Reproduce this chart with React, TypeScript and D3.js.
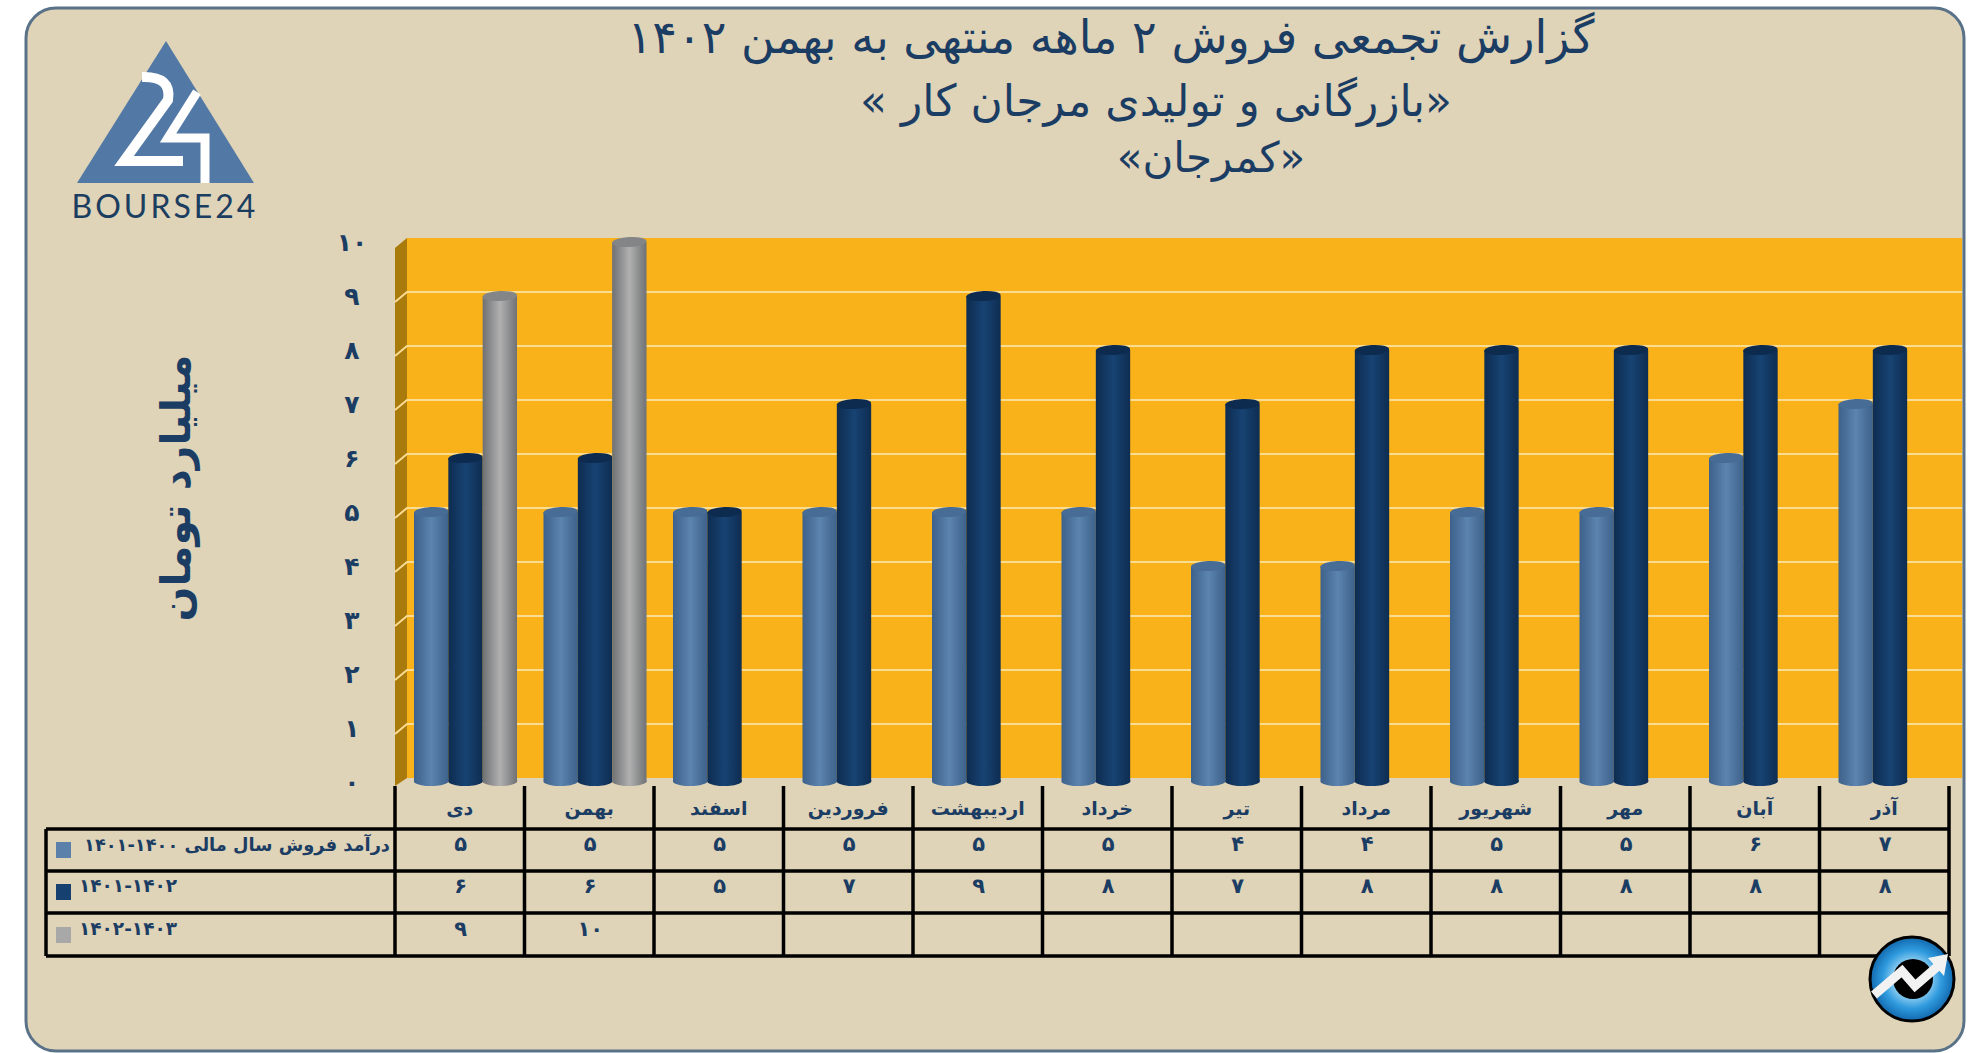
import { useEffect, useRef } from 'react';
import * as d3 from 'd3';

const months = ['دی', 'بهمن', 'اسفند', 'فروردین', 'اردیبهشت', 'خرداد', 'تیر', 'مرداد', 'شهریور', 'مهر', 'آبان', 'آذر'];
const sales1400 = [5, 5, 5, 5, 5, 5, 4, 4, 5, 5, 6, 7];
const sales1401 = [6, 6, 5, 7, 9, 8, 7, 8, 8, 8, 8, 8];
const sales1402 = [9, 10];
const seriesLabels = ['درآمد فروش سال مالی ۱۴۰۰-۱۴۰۱', '۱۴۰۱-۱۴۰۲', '۱۴۰۲-۱۴۰۳'];
const titleLines = ['گزارش تجمعی فروش ۲ ماهه منتهی به بهمن ۱۴۰۲', '«بازرگانی و تولیدی مرجان کار »', '«کمرجان»'];
const yLabel = 'میلیارد تومان';
const yTicks = [0, 1, 2, 3, 4, 5, 6, 7, 8, 9, 10];

const seriesColors = [
  { id: 'barLight', edge: '#3d618a', mid: '#5b84ae', top: '#476c96', swatch: '#5b80aa' },
  { id: 'barDark', edge: '#0e2c50', mid: '#174373', top: '#0d2b4f', swatch: '#16406f' },
  { id: 'barGray', edge: '#6f7072', mid: '#b0b0b0', top: '#838587', swatch: '#a8a8a8' },
];

const NAVY = '#1b3d63';
const FONT = '"DejaVu Sans", sans-serif';

const toPersian = (n: number) => d3.format('d')(n).replace(/\d/g, d => '۰۱۲۳۴۵۶۷۸۹'[+d]);

export default function App() {
  const ref = useRef<SVGSVGElement>(null);

  useEffect(() => {
    const svg = d3.select(ref.current);
    svg.selectAll('*').remove();

    const allSeries = [sales1400, sales1401, sales1402];

    const x = d3.scaleBand<string>().domain(months).range([395, 1949]);
    const inner = d3.scaleBand<number>().domain([0, 1, 2]).range([19, 122]);
    const yBar = d3.scaleLinear().domain([0, 10]).range([782, 242]);
    const yWall = d3.scaleLinear().domain([0, 10]).range([778, 238]);

    const defs = svg.append('defs');
    seriesColors.forEach(c => {
      const grad = defs.append('linearGradient').attr('id', c.id);
      grad.append('stop').attr('offset', '0%').attr('stop-color', c.edge);
      grad.append('stop').attr('offset', '50%').attr('stop-color', c.mid);
      grad.append('stop').attr('offset', '100%').attr('stop-color', c.edge);
    });
    const coinGrad = defs.append('radialGradient').attr('id', 'coin');
    coinGrad.append('stop').attr('offset', '35%').attr('stop-color', '#a9dcf5');
    coinGrad.append('stop').attr('offset', '70%').attr('stop-color', '#2f9ade');
    coinGrad.append('stop').attr('offset', '100%').attr('stop-color', '#1268ae');

    // panel
    svg
      .append('rect')
      .attr('x', 26)
      .attr('y', 8)
      .attr('width', 1938)
      .attr('height', 1043)
      .attr('rx', 30)
      .attr('fill', '#dfd3b8')
      .attr('stroke', '#5a7288')
      .attr('stroke-width', 3);

    // title
    svg
      .append('g')
      .attr('font-family', FONT)
      .attr('fill', NAVY)
      .attr('text-anchor', 'middle')
      .selectAll('text')
      .data(titleLines)
      .join('text')
      .attr('x', (_, i) => [1111, 1156, 1211][i])
      .attr('y', (_, i) => [53, 116, 172][i])
      .attr('direction', 'rtl')
      .style('unicode-bidi', 'plaintext')
      .attr('font-size', (_, i) => [46, 44, 42][i])
      .text(d => d);

    // logo
    const logo = svg.append('g');
    logo.append('path').attr('d', 'M166,41 L254,183 L77,183 Z').attr('fill', '#5279a5');
    logo
      .append('path')
      .attr('d', 'M142,77 Q172,76 168,100 L124,161 L183,161')
      .attr('fill', 'none')
      .attr('stroke', '#fff')
      .attr('stroke-width', 10);
    logo
      .append('path')
      .attr('d', 'M197,92 L168,138 L205,138 L205,183')
      .attr('fill', 'none')
      .attr('stroke', '#fff')
      .attr('stroke-width', 9);
    logo
      .append('text')
      .attr('x', 165)
      .attr('y', 218)
      .attr('text-anchor', 'middle')
      .attr('font-family', 'Lato, sans-serif')
      .attr('font-size', 32)
      .attr('letter-spacing', 3)
      .attr('fill', '#1b3d5f')
      .text('BOURSE24');

    // y axis title
    svg
      .append('text')
      .attr('transform', 'translate(190,488) rotate(-90)')
      .attr('text-anchor', 'middle')
      .attr('font-family', FONT)
      .attr('font-weight', 'bold')
      .attr('font-size', 41)
      .attr('fill', NAVY)
      .text(yLabel);

    // back wall and side wall
    const [wallLeft, wallRight, sideLeft] = [407, 1962, 395];
    svg
      .append('rect')
      .attr('x', wallLeft)
      .attr('y', yWall(10))
      .attr('width', wallRight - wallLeft)
      .attr('height', yWall(0) - yWall(10))
      .attr('fill', '#f9b21a');
    svg
      .append('path')
      .attr('d', `M${sideLeft},${yWall(10) + 10} L${wallLeft},${yWall(10)} L${wallLeft},${yWall(0)} L${sideLeft},${yWall(0) + 8} Z`)
      .attr('fill', '#a97a0c');

    svg
      .append('g')
      .attr('fill', 'none')
      .attr('stroke', '#fbdc93')
      .attr('stroke-width', 2)
      .selectAll('path')
      .data(yTicks.filter(t => t > 0 && t < 10))
      .join('path')
      .attr('d', t => `M${sideLeft},${yWall(t) + 10} L${wallLeft},${yWall(t)} L${wallRight},${yWall(t)}`);

    svg
      .append('g')
      .attr('font-family', FONT)
      .attr('font-weight', 'bold')
      .attr('font-size', 25)
      .attr('fill', NAVY)
      .attr('text-anchor', 'middle')
      .selectAll('text')
      .data(yTicks)
      .join('text')
      .attr('x', 352)
      .attr('y', t => yBar(t) + 9)
      .text(t => toPersian(t));

    // cylinders
    const rx = inner.bandwidth() / 2;
    const ry = 5;
    allSeries.forEach((values, s) => {
      const color = seriesColors[s];
      const bars = svg
        .append('g')
        .selectAll('g')
        .data(values)
        .join('g')
        .attr('transform', (_, i) => `translate(${(x(months[i]) as number) + (inner(s) as number)},0)`);
      bars
        .append('path')
        .attr('d', d => `M0,${yBar(d)} L0,${yBar(0)} A${rx},${ry} 0 0 0 ${rx * 2},${yBar(0) - 2} L${rx * 2},${yBar(d)} Z`)
        .attr('fill', `url(#${color.id})`);
      bars
        .append('ellipse')
        .attr('cx', rx)
        .attr('cy', d => yBar(d))
        .attr('rx', rx)
        .attr('ry', ry)
        .attr('transform', d => `rotate(-3 ${rx} ${yBar(d)})`)
        .attr('fill', color.top);
    });

    // data table
    const rowY = [829, 871, 913, 956];
    const table = svg.append('g').attr('stroke', '#000').attr('stroke-width', 3.5);
    table
      .selectAll('line.h')
      .data(rowY)
      .join('line')
      .attr('class', 'h')
      .attr('x1', 46)
      .attr('x2', 1949)
      .attr('y1', d => d)
      .attr('y2', d => d);
    table
      .selectAll('line.v')
      .data([...months.map(m => x(m) as number), 1949])
      .join('line')
      .attr('class', 'v')
      .attr('x1', d => d)
      .attr('x2', d => d)
      .attr('y1', 786)
      .attr('y2', 956);
    table.append('line').attr('x1', 46).attr('x2', 46).attr('y1', 829).attr('y2', 956);

    const labels = svg
      .append('g')
      .attr('font-family', FONT)
      .attr('font-weight', 'bold')
      .attr('fill', NAVY)
      .attr('text-anchor', 'middle');

    labels
      .selectAll('text.month')
      .data(months)
      .join('text')
      .attr('class', 'month')
      .attr('x', d => (x(d) as number) + x.bandwidth() / 2)
      .attr('y', 815)
      .attr('font-size', 19)
      .text(d => d);

    allSeries.forEach((values, s) => {
      labels
        .append('g')
        .selectAll('text')
        .data(values)
        .join('text')
        .attr('x', (_, i) => (x(months[i]) as number) + x.bandwidth() / 2 + 1)
        .attr('y', [851, 893, 936][s])
        .attr('font-size', 21)
        .text(d => toPersian(d));

      svg
        .append('rect')
        .attr('x', 56)
        .attr('y', [842, 884, 927][s])
        .attr('width', 15)
        .attr('height', 16)
        .attr('fill', seriesColors[s].swatch);

      svg
        .append('text')
        .attr('x', s === 0 ? 390 : 79)
        .attr('y', [851, 892, 935][s])
        .attr('text-anchor', s === 0 ? 'end' : 'start')
        .attr('font-family', FONT)
        .attr('font-weight', 'bold')
        .attr('font-size', s === 0 ? 17.8 : 18.5)
        .attr('fill', NAVY)
        .text(seriesLabels[s]);
    });

    // coin badge
    const coin = svg.append('g');
    coin
      .append('circle')
      .attr('cx', 1912)
      .attr('cy', 979)
      .attr('r', 42)
      .attr('fill', 'url(#coin)')
      .attr('stroke', '#000')
      .attr('stroke-width', 3);
    coin.append('circle').attr('cx', 1913).attr('cy', 979).attr('r', 20).attr('fill', '#000');
    coin
      .append('path')
      .attr('d', 'M1874,995 L1902,971 L1915,986 L1938,966')
      .attr('fill', 'none')
      .attr('stroke', '#f2f2f2')
      .attr('stroke-width', 9);
    coin.append('path').attr('d', 'M1948,954 L1944,976 L1928,958 Z').attr('fill', '#f2f2f2');
  }, []);

  return <svg ref={ref} width={1986} height={1053} style={{ position: 'absolute', left: 0, top: 0, display: 'block' }} />;
}
